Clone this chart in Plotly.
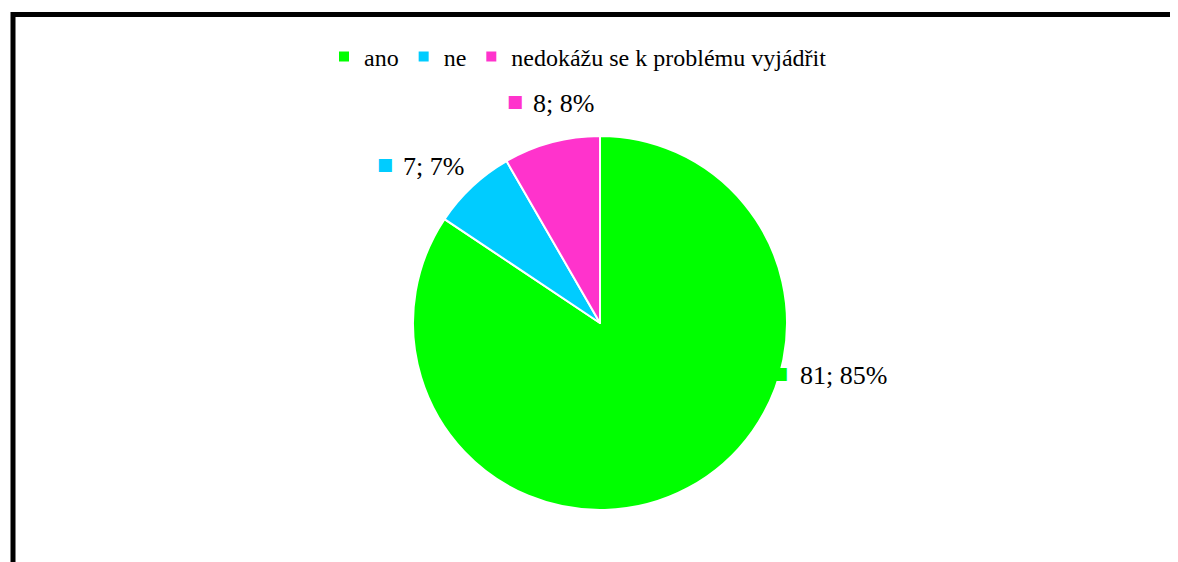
import plotly.graph_objects as go

labels = ["ano", "ne", "nedokážu se k problému vyjádřit"]
values = [81, 7, 8]
percent_labels = ["85%", "7%", "8%"]
colors = ["#00FF00", "#00CCFF", "#FF33CC"]

W, H = 1178, 562
OFF = 8  # page body margin
FONT = "'Times New Roman', 'Liberation Serif', 'DejaVu Serif', serif"


def px(x):
    return (x - OFF) / W


def py(y):
    return 1 - (y - OFF) / H


cx, cy, r = 600, 323, 187

fig = go.Figure()
fig.add_trace(go.Pie(
    labels=labels,
    values=values,
    sort=False,
    direction="clockwise",
    rotation=0,
    textinfo="none",
    hoverinfo="label+value+percent",
    marker=dict(colors=colors, line=dict(color="white", width=2)),
    domain=dict(x=[px(cx - r), px(cx + r)], y=[py(cy + r), py(cy - r)]),
    showlegend=True,
))

# data labels (value; percent) with colored key squares
label_pos = [(843, 375), (433, 166), (563, 103)]
annotations = []
for (x, y), v, p, c in zip(label_pos, values, percent_labels, colors):
    annotations.append(dict(
        x=px(x), y=py(y), xref="paper", yref="paper",
        text=f"{v}; {p}", showarrow=False,
        font=dict(family=FONT, size=26, color="black"),
        xanchor="center", yanchor="middle",
    ))
    annotations.append(dict(
        x=px(x - 63) if v >= 10 else px(x - 48), y=py(y - 2), xref="paper", yref="paper",
        text="■", showarrow=False,
        font=dict(family="DejaVu Sans", size=17, color=c),
        xanchor="center", yanchor="middle",
    ))

fig.update_layout(
    width=W, height=H,
    margin=dict(l=0, r=0, t=0, b=0),
    paper_bgcolor="white",
    plot_bgcolor="white",
    font=dict(family=FONT),
    legend=dict(
        orientation="h",
        x=px(578), xanchor="center",
        y=py(57), yanchor="middle",
        font=dict(family=FONT, size=24, color="black"),
        bgcolor="rgba(0,0,0,0)",
    ),
    annotations=annotations,
    shapes=[dict(
        type="rect", xref="paper", yref="paper",
        x0=px(13), x1=1.05, y0=-0.05, y1=py(14.5),
        line=dict(color="black", width=5),
        layer="above",
    )],
)

fig.write_html("out.html")
